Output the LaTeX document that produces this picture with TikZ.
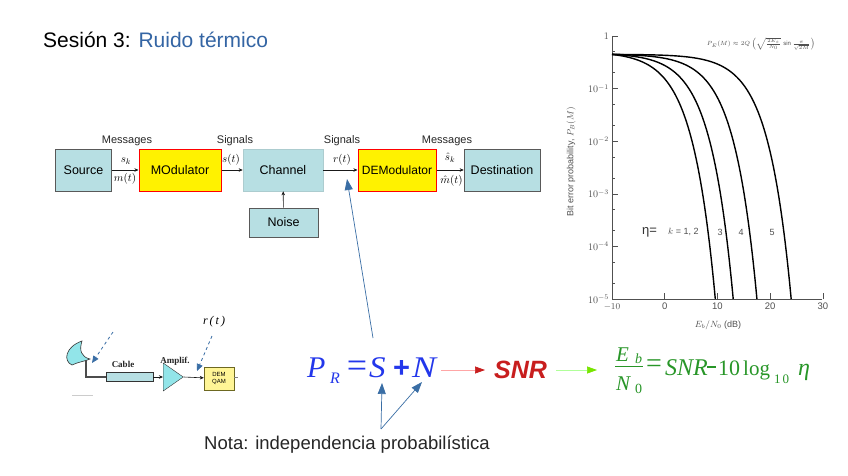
\documentclass[tikz,border=0pt]{standalone}
\usepackage{fontspec}
\setmainfont{Liberation Sans}
\newfontfamily\serif{Liberation Serif}
\usetikzlibrary{arrows.meta,shapes.geometric}
\definecolor{boxblue}{RGB}{183,223,227}
\definecolor{titleblue}{RGB}{52,101,164}
\definecolor{steel}{RGB}{58,110,165}
\definecolor{formblue}{RGB}{35,55,235}
\definecolor{snrred}{RGB}{200,30,30}
\definecolor{fgreen}{RGB}{40,150,40}
\definecolor{plotgray}{RGB}{80,80,80}
\definecolor{demyellow}{RGB}{255,245,150}
\tikzset{
  bluebox/.style={draw=gray!70!black, fill=boxblue, line width=0.6pt, inner sep=0pt, font=\fontsize{12.5}{14}\selectfont},
  yelbox/.style={draw=red, fill=yellow, line width=1pt, inner sep=0pt, font=\fontsize{12.5}{14}\selectfont},
  sig/.style={-{Stealth[length=4pt,width=3.5pt]}, draw=gray!20!black, line width=0.6pt},
  lbl/.style={font=\fontsize{11}{12}\selectfont, text=black!85},
  albl/.style={font=\fontsize{11}{12}\selectfont, inner sep=0pt},
  bluearrow/.style={draw=steel, line width=0.7pt, -{Triangle[length=11pt,width=8pt]}},
  dasharrow/.style={draw=steel, line width=0.8pt, dashed, -{Triangle[length=7pt,width=6pt]}},
  ptext/.style={text=plotgray, inner sep=1pt},
  curve/.style={line width=1.4pt, black},
  tk/.style={draw=plotgray, line width=0.6pt},
  bf/.style={anchor=base west, inner sep=0, text=formblue},
  gf/.style={anchor=base west, inner sep=0, text=fgreen},
}
\begin{document}
\begin{tikzpicture}[x=1pt,y=-1pt]
\useasboundingbox[fill=white] (0,0) rectangle (848,476);

% title
\node[anchor=base west, inner sep=0, font=\fontsize{21}{24}\selectfont] (title) at (43,48) {Sesión 3: \textcolor{titleblue}{Ruido térmico}};

% block diagram
\node[bluebox, minimum width=56pt, minimum height=42pt] (src) at (83.5,170) {Source};
\node[yelbox, minimum width=82pt, minimum height=42pt] (mod) at (180,170) {MOdulator};
\node[bluebox, minimum width=80pt, minimum height=42pt, draw=boxblue!80!gray] (chan) at (283,170) {Channel};
\node[bluebox, minimum width=69pt, minimum height=29pt] (noise) at (283.5,222.5) {Noise};
\node[yelbox, minimum width=78pt, minimum height=42pt, font=\fontsize{12}{14}\selectfont] (dem) at (397,170) {DEModulator};
\node[bluebox, minimum width=76pt, minimum height=42pt] (dest) at (502,170) {Destination};

\draw[sig] (src) -- (mod);
\draw[sig] (mod) -- (chan);
\draw[sig] (chan) -- (dem);
\draw[sig] (dem) -- (dest);
\draw[sig] (noise) -- (chan);

\node[lbl] (m1) at (127,141) {Messages};
\node[lbl] (s1) at (235,141) {Signals};
\node[lbl] (s2) at (342,141) {Signals};
\node[lbl] (m2) at (447,141) {Messages};

\node[albl] (sk) at (126,161) {$s_k$};
\node[albl] (mt) at (125,179) {$m(t)$};
\node[albl] (st) at (231,160) {$s(t)$};
\node[albl] (rt) at (342,160) {$r(t)$};
\node[albl] (shk) at (450,158) {$\hat{s}_k$};
\node[albl] (mht) at (451.5,180.5) {$\hat{m}(t)$};

% plot
\draw[tk] (612,36) -- (612,299) -- (822,299);
\foreach \d/\lab in {0/1,1/10^{-1},2/10^{-2},3/10^{-3},4/10^{-4},5/10^{-5}}{
  \draw[tk] (612,36+52.6*\d) -- (618,36+52.6*\d);
  \node[ptext, anchor=east, font=\fontsize{10}{11}\selectfont] at (610,36+52.6*\d) {$\lab$};
}
\foreach \d in {0,1,2,3,4}{
  \draw[tk] (612,36+52.6*\d+15.8) -- (615,36+52.6*\d+15.8);
  \draw[tk] (612,36+52.6*\d+36.8) -- (615,36+52.6*\d+36.8);
}
\foreach \v/\lab in {0/$-10$,1/0,2/10,3/20,4/30}{
  \draw[tk] (612+52.7*\v,299) -- (612+52.7*\v,293);
  \node[ptext, anchor=north, font=\fontsize{9.5}{10}\selectfont] at (612+52.7*\v,302) {\lab};
}
\node[ptext, rotate=90, font=\fontsize{9}{10}\selectfont] (ylab) at (571,162) {Bit error probability, $P_B(M)$};
\node[ptext, font=\fontsize{9}{10}\selectfont] (xlab) at (718,325) {$E_b/N_0$ (dB)};
\node[ptext, font=\fontsize{6}{7}\selectfont] (pe) at (761,44) {$P_E(M)\approx 2Q\left(\sqrt{\frac{2E_s}{N_0}}\,\sin\frac{\pi}{\sqrt{2M}}\right)$};

\draw[curve] plot[domain=-10:9.6, samples=120, smooth] ({612+5.27*(\x+10)},{36+52.6*(0.35+0.5155*(exp(0.2302585*\x)-0.1))});
\draw[curve] plot[domain=-10:13, samples=120, smooth] ({612+5.27*(\x+10)},{36+52.6*(0.35+0.23426*(exp(0.2302585*\x)-0.1))});
\draw[curve] plot[domain=-10:17.5, samples=120, smooth] ({612+5.27*(\x+10)},{36+52.6*(0.35+0.08284*(exp(0.2302585*\x)-0.1))});
\draw[curve] plot[domain=-10:24, samples=120, smooth] ({612+5.27*(\x+10)},{36+52.6*(0.35+0.018519*(exp(0.2302585*\x)-0.1))});

\node[anchor=west, inner sep=0, font=\fontsize{13}{14}\selectfont, text=black!80] (eta) at (642,232) {η=};
\node[ptext, anchor=west, inner sep=0, font=\fontsize{9}{10}\selectfont] (k12) at (668,232) {$k$ = 1, 2};
\node[ptext, font=\fontsize{9}{10}\selectfont] (k3) at (720,232) {3};
\node[ptext, font=\fontsize{9}{10}\selectfont] (k4) at (741,232) {4};
\node[ptext, font=\fontsize{9}{10}\selectfont] (k5) at (772,232) {5};

% antenna chain
\path[fill=boxblue!80!cyan, draw=gray!40!black, line width=0.6pt]
  (82,341) .. controls (65,347) and (63,361) .. (72,365)
  .. controls (78,362) and (86,361) .. (90,359)
  .. controls (81,357) and (79,350) .. (82,341) -- cycle;
\draw[gray!60!black, line width=2pt] (86,360) -- (86,377) -- (106,377);
\draw[gray!40, line width=0.8pt] (72,395) -- (93,395);
\node[draw=gray!40!black, fill=boxblue, minimum width=47pt, minimum height=9pt, inner sep=0] (cable) at (129.5,377) {};
\node[draw=gray!40!black, fill=boxblue!80!cyan, isosceles triangle, isosceles triangle apex angle=70, minimum height=20pt, inner sep=0, anchor=west] (amp) at (163,377) {};
\node[draw=olive!70!black, fill=demyellow, minimum width=30pt, minimum height=23pt, inner sep=0, align=center, font=\fontsize{6}{6.5}\selectfont] (demq) at (219,378.5) {DEM\\QAM};
\draw[-{Stealth[length=4pt,width=3.5pt]}, gray!20!black, line width=0.6pt] (cable) -- (amp);
\draw[-{Stealth[length=4pt,width=3.5pt]}, gray!20!black, line width=0.6pt] (amp.apex) -- (demq);
\coordinate (stub1) at (234,377);
\coordinate (stub) at (238,377);
\draw[gray, line width=0.5pt] (stub1) -- (stub);
\node[font=\serif\bfseries\fontsize{9}{10}\selectfont, text=gray!30!black] (cablelbl) at (123,364) {Cable};
\node[font=\serif\bfseries\fontsize{9}{10}\selectfont, text=gray!30!black] (amplbl) at (175,361) {Amplif.};
\node[font=\serif\itshape\fontsize{12}{13}\selectfont] (rtl) at (214,322) {r\,(\,t\,)};
\coordinate (d1s) at (113,332);
\coordinate (d1e) at (92,363);
\coordinate (d2s) at (212,336);
\coordinate (d2e) at (197,371);
\draw[dasharrow] (d1s) -- (d1e);
\draw[dasharrow] (d2s) -- (d2e);

% main formula
\node[bf, font=\serif\itshape\fontsize{30}{32}\selectfont] (P) at (307,377) {P};
\node[bf, font=\serif\itshape\fontsize{16}{18}\selectfont] (R) at (330,383) {R};
\node[anchor=center, inner sep=0, text=formblue, font=\serif\fontsize{36}{38}\selectfont] (eq) at (357,369.5) {=};
\node[bf, font=\serif\itshape\fontsize{30}{32}\selectfont, xscale=1.1] (S) at (369,377) {S};
\node[anchor=center, inner sep=0, text=formblue, font=\bfseries\fontsize{29}{31}\selectfont] (plus) at (401.5,368.5) {+};
\node[bf, font=\serif\itshape\fontsize{30}{32}\selectfont, xscale=1.2] (N) at (412,377) {N};

\node[anchor=base west, inner sep=0, text=snrred, font=\bfseries\itshape\fontsize{25}{27}\selectfont] (snr) at (494,378) {SNR};
\coordinate (rs) at (441,370);
\coordinate (re) at (485,370);
\draw[draw=red!35, line width=0.7pt, -{Triangle[length=10pt,width=7pt,color=snrred]}] (rs) -- (re);

% green formula
\node[gf, font=\serif\itshape\fontsize{21}{23}\selectfont] (Eb) at (616,361) {E};
\node[gf, font=\serif\itshape\fontsize{14}{15}\selectfont] (bsub) at (635,363) {b};
\node[gf, font=\serif\itshape\fontsize{21}{23}\selectfont] (N0) at (616,390) {N};
\node[gf, font=\serif\fontsize{14}{15}\selectfont] (zsub) at (635,393) {0};
\coordinate (fb1) at (615,366);
\coordinate (fb2) at (643,366);
\draw[fgreen, line width=0.8pt] (fb1) -- (fb2);
\node[anchor=center, inner sep=0, text=fgreen, font=\serif\fontsize{28}{30}\selectfont] (geq) at (654,366) {=};
\node[gf, font=\serif\itshape\fontsize{24}{26}\selectfont] (gsnr) at (665,375) {SNR};
\coordinate (gm1) at (707,367);
\coordinate (gm2) at (716,367);
\draw[fgreen, line width=1.1pt] (gm1) -- (gm2);
\node[gf, font=\serif\fontsize{22}{24}\selectfont] (g10) at (718,375) {10};
\node[gf, font=\serif\fontsize{21}{23}\selectfont] (glog) at (743,375) {log};
\node[gf, font=\serif\fontsize{13}{15}\selectfont] (lsub) at (774,383) {1\kern2pt0};
\node[gf, font=\serif\itshape\fontsize{24}{26}\selectfont] (geta) at (798,375) {η};

\coordinate (gs) at (556,370);
\coordinate (ge) at (597,370);
\draw[draw=green!70!lime!40, line width=0.7pt, -{Triangle[length=10pt,width=7pt,color=lime!70!green!90!black]}] (gs) -- (ge);

% blue arrows
\coordinate (bl) at (373,338);
\coordinate (tipr) at (347,179);
\draw[bluearrow] (bl) -- (tipr);
\coordinate (cp) at (381,429);
\coordinate (tipS) at (382,383);
\coordinate (tipN) at (422,382);
\draw[bluearrow] (cp) -- (tipS);
\draw[bluearrow] (cp) -- (tipN);

\node[anchor=base, inner sep=0, font=\fontsize{18.5}{20}\selectfont, text=black!85] (nota) at (347,449) {Nota: independencia probabilística};
\end{tikzpicture}
\end{document}
